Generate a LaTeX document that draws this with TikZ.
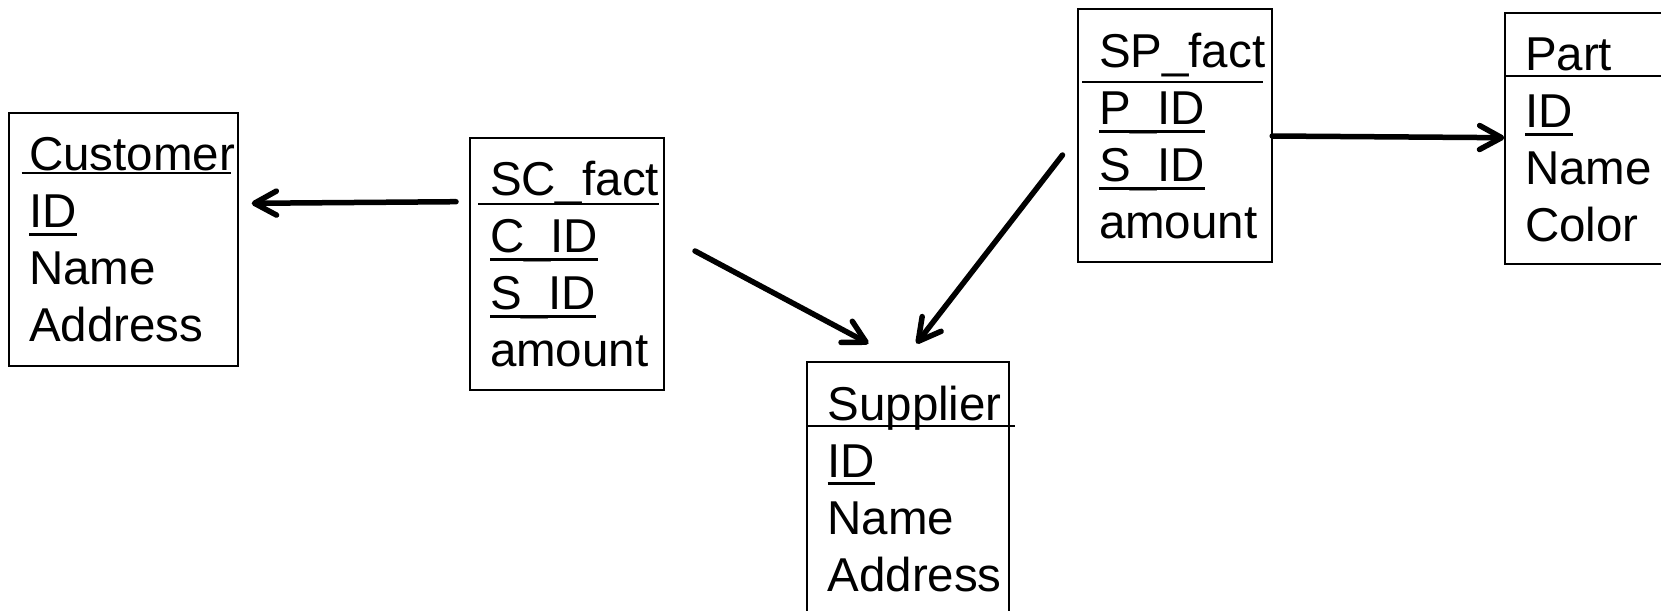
\documentclass[tikz,border=0pt]{standalone}
\usepackage{fontspec}
\setmainfont{Liberation Sans}
\usetikzlibrary{arrows.meta,calc}

\begin{document}
\begin{tikzpicture}[x=1pt,y=-1pt,
  relbox/.style={draw,line width=2pt,inner sep=0pt,outer sep=0pt,anchor=north west},
  fld/.style={inner sep=0pt,outer sep=0pt,anchor=base west,
              font=\fontsize{47.5pt}{57pt}\selectfont},
  keyline/.style={line width=3pt},
  sepline/.style={line width=2pt},
  link/.style={line width=5.5pt,line cap=round,
               -{Straight Barb[length=22pt,width=24pt,round]}}]

\useasboundingbox (0,0) rectangle (1661,610);

% ---- Customer ----
\node[relbox,minimum width=229.8pt,minimum height=252.2pt] (cust) at (8.5,113.3) {};
\node[fld] (cust-h) at (29,170.7) {Customer};
\node[fld] (cust-id) at (29,227.7) {ID};
\node[fld] (cust-nm) at (29,284.7) {Name};
\node[fld] (cust-ad) at (29,341.7) {Address};
\draw[sepline] (21.7,173.3) -- (231,173.3);
\draw[keyline] ([yshift=-6.5pt]cust-id.base west) -- ([yshift=-6.5pt]cust-id.base east);

% ---- SC_fact ----
\node[relbox,minimum width=193.9pt,minimum height=252.1pt] (scf) at (470.3,137.7) {};
\node[fld] (scf-h) at (490,195.7) {SC\_fact};
\node[fld] (scf-c) at (490,252.7) {C\_ID};
\node[fld] (scf-s) at (490,309.7) {S\_ID};
\node[fld] (scf-a) at (490,366.7) {amount};
\draw[sepline] (478,203.5) -- (659,203.5);
\draw[keyline] ([yshift=-6.5pt]scf-c.base west) -- ([yshift=-6.5pt]scf-c.base east);
\draw[keyline] ([yshift=-6.5pt]scf-s.base west) -- ([yshift=-6.5pt]scf-s.base east);

% ---- Supplier ----
\node[relbox,minimum width=201.3pt,minimum height=270pt] (sup) at (807.2,362.3) {};
\node[fld] (sup-h) at (827.5,420) {Supplier};
\node[fld] (sup-id) at (827.5,477) {ID};
\node[fld] (sup-nm) at (827.5,534) {Name};
\node[fld] (sup-ad) at (827.5,591) {Address};
\draw[sepline] (807.2,426) -- (1015,426);
\draw[keyline] ([yshift=-6.5pt]sup-id.base west) -- ([yshift=-6.5pt]sup-id.base east);

% ---- SP_fact ----
\node[relbox,minimum width=193.8pt,minimum height=252.1pt] (spf) at (1078.4,9.5) {};
\node[fld] (spf-h) at (1099,67.5) {SP\_fact};
\node[fld] (spf-p) at (1099,124.5) {P\_ID};
\node[fld] (spf-s) at (1099,181.5) {S\_ID};
\node[fld] (spf-a) at (1099,238.5) {amount};
\draw[sepline] (1082,82) -- (1263,82);
\draw[keyline] ([yshift=-6.5pt]spf-p.base west) -- ([yshift=-6.5pt]spf-p.base east);
\draw[keyline] ([yshift=-6.5pt]spf-s.base west) -- ([yshift=-6.5pt]spf-s.base east);

% ---- Part ----
\node[relbox,minimum width=220pt,minimum height=251.1pt] (part) at (1505.3,12.7) {};
\node[fld] (part-h) at (1525,70.7) {Part};
\node[fld] (part-id) at (1525,127.7) {ID};
\node[fld] (part-nm) at (1525,184.7) {Name};
\node[fld] (part-co) at (1525,241.7) {Color};
\draw[sepline] (1505.3,76) -- (1700,76);
\draw[keyline] ([yshift=-6.5pt]part-id.base west) -- ([yshift=-6.5pt]part-id.base east);

% ---- references ----
\draw[link] ($(scf.north west)+(-14.3,64)$) -- ($(cust.north east)+(13.4,90)$);
\draw[link] ($(scf.north east)+(30.8,113.3)$) -- ($(sup.north west)+(61.3,-18.8)$);
\draw[link] ($(spf.north west)+(-15.9,145.5)$) -- ($(sup.north west)+(109.3,-18.8)$);
\draw[link] ($(spf.north east)+(0,126.5)$) -- ($(part.north west)+(-1,125)$);

\end{tikzpicture}
\end{document}
